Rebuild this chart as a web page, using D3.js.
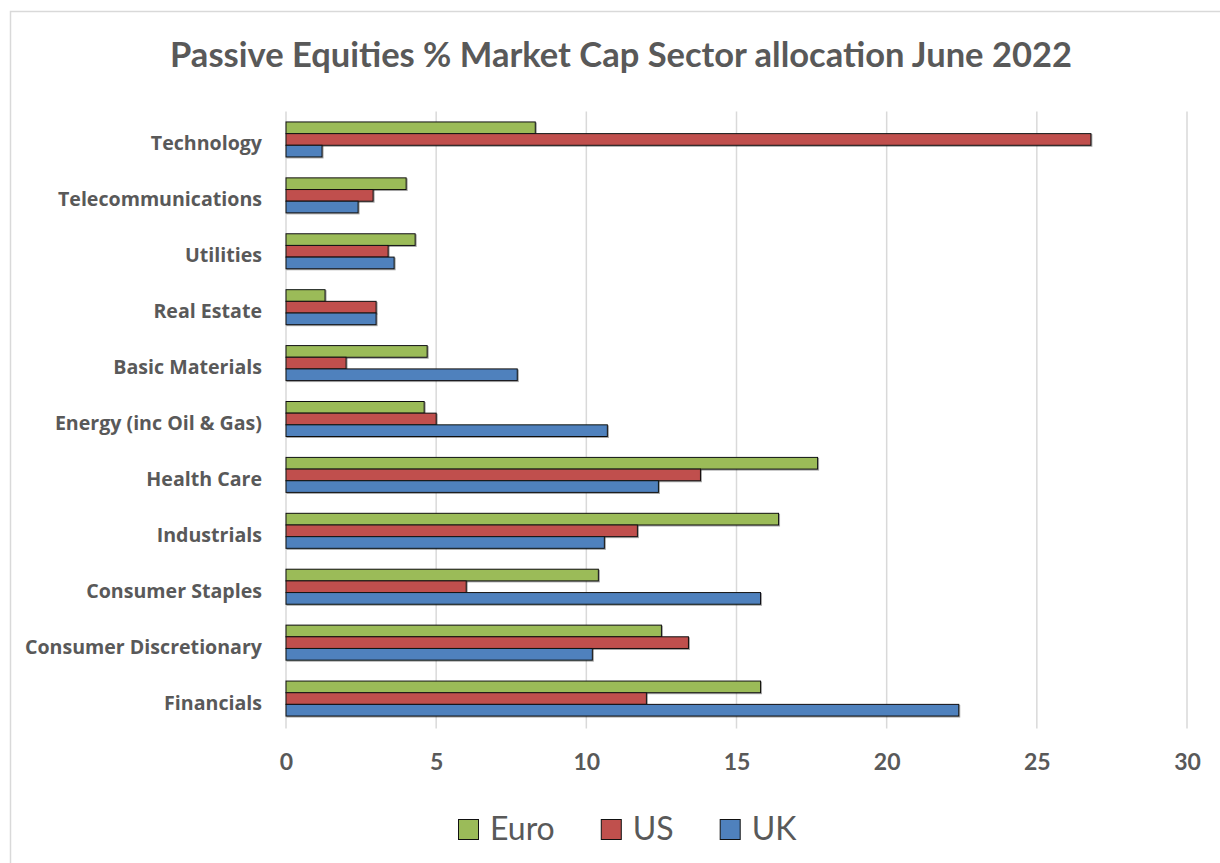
<!DOCTYPE html>
<html>
<head>
<meta charset="utf-8">
<script src="https://cdn.jsdelivr.net/npm/d3@7"></script>
<style>
  body { margin: 0; background: #fff; }
  svg { display: block; font-family: Lato, "Open Sans", sans-serif; }
</style>
</head>
<body>
<div id="chart"></div>
<script>
// chart data
const categories = ['Technology', 'Telecommunications', 'Utilities', 'Real Estate', 'Basic Materials',
  'Energy (inc Oil & Gas)', 'Health Care', 'Industrials', 'Consumer Staples', 'Consumer Discretionary', 'Financials'];
const seriesNames = ['Euro', 'US', 'UK'];
const euroValues = [8.3, 4.0, 4.3, 1.3, 4.7, 4.6, 17.7, 16.4, 10.4, 12.5, 15.8];
const usValues = [26.8, 2.9, 3.4, 3.0, 2.0, 5.0, 13.8, 11.7, 6.0, 13.4, 12.0];
const ukValues = [1.2, 2.4, 3.6, 3.0, 7.7, 10.7, 12.4, 10.6, 15.8, 10.2, 22.4];
const xTicks = [0, 5, 10, 15, 20, 25, 30];

const seriesValues = { Euro: euroValues, US: usValues, UK: ukValues };
const color = d3.scaleOrdinal(seriesNames, ['#9bbb59', '#c0504d', '#4f81bd']);

const W = 1220;
const H = 863;
const textColor = '#595959';

const svg = d3.select('#chart').append('svg')
  .attr('width', W)
  .attr('height', H);

// soft shadow under the bars
const defs = svg.append('defs');
defs.append('filter').attr('id', 'shadow')
  .attr('x', '-5%').attr('y', '-20%').attr('width', '110%').attr('height', '160%')
  .append('feDropShadow')
    .attr('dx', 1).attr('dy', 1).attr('stdDeviation', 0.6)
    .attr('flood-color', '#000').attr('flood-opacity', 0.35);

// chart frame
svg.append('rect')
  .attr('x', 10.5).attr('y', 11.5)
  .attr('width', W + 20).attr('height', H + 20)
  .attr('fill', 'none')
  .attr('stroke', '#d9d9d9')
  .attr('stroke-width', 1.5);

// title
svg.append('text')
  .attr('x', 621)
  .attr('y', 67)
  .attr('text-anchor', 'middle')
  .attr('fill', textColor)
  .attr('font-size', 34.5)
  .attr('font-weight', 700)
  .text('Passive Equities % Market Cap Sector allocation June 2022');

const margin = { top: 111.5, right: 33, bottom: 136.5, left: 286 };
const width = W - margin.left - margin.right;
const height = H - margin.top - margin.bottom;

const g = svg.append('g')
  .attr('transform', `translate(${margin.left}, ${margin.top})`);

const x = d3.scaleLinear()
  .domain([0, 30])
  .range([0, width]);

const y = d3.scaleBand()
  .domain(categories)
  .range([0, height])
  .paddingInner(0.374)
  .paddingOuter(0.187);

const ySeries = d3.scaleBand()
  .domain(seriesNames)
  .range([0, y.bandwidth()]);

// GRIDLINES
g.selectAll('.grid')
  .data(xTicks)
  .enter().append('line')
    .attr('class', 'grid')
    .attr('x1', d => x(d))
    .attr('x2', d => x(d))
    .attr('y1', 0)
    .attr('y2', height + 2)
    .attr('stroke', '#d9d9d9')
    .attr('stroke-width', 1.5);

// X AXIS LABELS
const xAxis = g.append('g')
  .attr('transform', `translate(0, ${height})`)
  .call(d3.axisBottom(x).tickValues(xTicks).tickSize(0).tickPadding(27));
xAxis.select('.domain').remove();
xAxis.selectAll('text')
  .attr('fill', textColor)
  .attr('font-size', 23)
  .attr('font-weight', 700)
  .attr('font-family', 'Lato, "Open Sans", sans-serif');

// CATEGORY LABELS
g.selectAll('.cat-label')
  .data(categories)
  .enter().append('text')
    .attr('class', 'cat-label')
    .attr('x', -24)
    .attr('y', d => y(d) + y.bandwidth() / 2 + 11)
    .attr('text-anchor', 'end')
    .attr('fill', textColor)
    .attr('font-family', '"Open Sans", Lato, sans-serif')
    .attr('font-size', 19.6)
    .attr('font-weight', 700)
    .text(d => d);

// BARS
const barData = [];
categories.forEach((c, i) => {
  seriesNames.forEach((s) => {
    barData.push({ category: c, series: s, value: seriesValues[s][i] });
  });
});

g.selectAll('.bar')
  .data(barData)
  .enter().append('rect')
    .attr('class', 'bar')
    .attr('x', x(0))
    .attr('y', d => y(d.category) + ySeries(d.series))
    .attr('width', d => x(d.value) - x(0))
    .attr('height', ySeries.bandwidth())
    .attr('fill', d => color(d.series))
    .attr('stroke', '#111')
    .attr('stroke-width', 1)
    .attr('filter', 'url(#shadow)');

// LEGEND
const legend = svg.append('g')
  .attr('transform', 'translate(458, 819)');
let offset = 0;
seriesNames.forEach((s) => {
  const item = legend.append('g').attr('transform', `translate(${offset}, 0)`);
  item.append('rect')
    .attr('x', 0.5).attr('y', 0.5)
    .attr('width', 20).attr('height', 20)
    .attr('fill', color(s))
    .attr('stroke', '#111')
    .attr('stroke-width', 1);
  const t = item.append('text')
    .attr('x', 32)
    .attr('y', 21)
    .attr('fill', textColor)
    .attr('font-size', 32)
    .text(s);
  offset += 32 + t.node().getComputedTextLength() + 46;
});
</script>
</body>
</html>
